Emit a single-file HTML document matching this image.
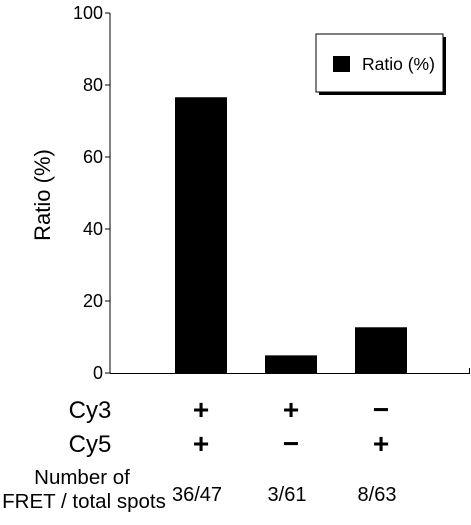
<!DOCTYPE html>
<html><head><meta charset="utf-8"><style>
html,body{margin:0;padding:0;background:#fff;}
svg text{font-family:"Liberation Sans",Arial,sans-serif;fill:#000;}
</style></head><body>
<svg id="chart" width="471" height="520" viewBox="0 0 471 520" xmlns="http://www.w3.org/2000/svg">
<g id="axes"></g>
<g id="bars"></g>
<g>
  <rect x="319" y="37" width="127" height="58" fill="#000"/>
  <rect x="316" y="34" width="127" height="58" fill="#fff" stroke="#000" stroke-width="1"/>
  <rect x="333" y="56" width="17" height="16" fill="#000"/>
  <text x="362" y="70" font-size="17.5">Ratio (%)</text>
</g>
<text transform="translate(50,195) rotate(-90)" text-anchor="middle" font-size="22">Ratio (%)</text>
<g id="table"></g>
</svg>
<script>
const categories=["Cy3+ Cy5+","Cy3+ Cy5-","Cy3- Cy5+"];
const ratios=[76.6,4.9,12.7];
const cy3=["+","+","−"];
const cy5=["+","−","+"];
const counts=["36/47","3/61","8/63"];
const yTicks=[0,20,40,60,80,100];

const NS="http://www.w3.org/2000/svg";
const x0=110,x1=470,y0=373,y1=13;
function yScale(v){return y0-(v/100)*(y0-y1);}
function xCenter(i){return 201+i*90;}
const barW=52;
function mk(tag,attrs,parent){const e=document.createElementNS(NS,tag);for(const k in attrs)e.setAttribute(k,attrs[k]);parent.appendChild(e);return e;}
const axes=document.getElementById('axes');
let l=mk('line',{x1:x0,y1:y1,x2:x0,y2:y0,stroke:'#000','stroke-width':1},axes);


l=mk('line',{x1:x0,y1:y0+0.5,x2:x1,y2:y0+0.5,stroke:'#000','stroke-width':1},axes);


l=mk('line',{x1:x1-0.5,y1:y0-5,x2:x1-0.5,y2:y0,stroke:'#000','stroke-width':1},axes);


yTicks.forEach(v=>{
  const y=yScale(v);
  const t=mk('line',{x1:x0-5,y1:y,x2:x0,y2:y,stroke:'#000','stroke-width':1},axes);
  
  
  const tx=mk('text',{x:103,y:y+6,'text-anchor':'end','font-size':18},axes);
  tx.textContent=v;
  
  
});
const bars=document.getElementById('bars');
ratios.forEach((v,i)=>{
  const y=yScale(v);
  const r=mk('rect',{x:xCenter(i)-barW/2,y:y,width:barW,height:y0-y,fill:'#000'},bars);
  
  
});
const table=document.getElementById('table');
function txt(s,x,y,size,anchor,name,weight){
  const t=mk('text',{x:x,y:y,'font-size':size,'text-anchor':anchor||'middle'},table);
  if(weight)t.setAttribute('font-weight',weight);
  t.textContent=s;
  
  
}
txt('Cy3',90,418,24,'middle','cy3-label');
txt('Cy5',90,452,24,'middle','cy5-label');
txt('Number of',82,484,20.5,'middle','count-label-line1');
txt('FRET / total spots',84,508,20.5,'middle','count-label-line2');
cy3.forEach((s,i)=>txt(s,xCenter(i),419,28,'middle','cy3-sign','bold'));
cy5.forEach((s,i)=>txt(s,xCenter(i),453,28,'middle','cy5-sign','bold'));
counts.forEach((s,i)=>txt(s,xCenter(i)-4,501,20,'middle','count-value'));
</script>
</body></html>
